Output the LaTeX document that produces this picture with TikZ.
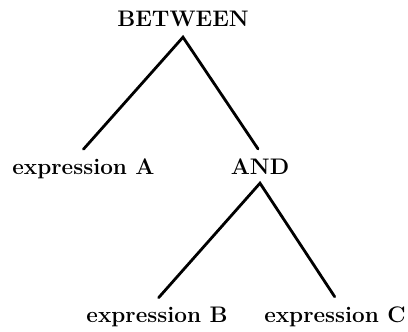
\documentclass[tikz,border=0pt]{standalone}
\usepackage{fontspec}
\begin{document}
\begin{tikzpicture}[x=1pt,y=1pt,
  lbl/.style={anchor=base,inner sep=0pt,text height=15.5pt,text depth=0pt,
    font=\fontsize{22.5}{27}\selectfont\bfseries},
  edge/.style={line width=2.8pt,line cap=round}]
\useasboundingbox (0,0) rectangle (408,-332);
\node[lbl] (between) at (183,-27) {BETWEEN};
\node[lbl] (exprA) at (83.5,-175) {expression A};
\node[lbl] (and) at (260,-175) {AND};
\node[lbl] (exprB) at (157,-322) {expression B};
\node[lbl] (exprC) at (335,-322) {expression C};
\coordinate (betweenApex) at ([yshift=-10pt]between.south);
\coordinate (andApex) at ([yshift=-8pt]and.south);
\draw[edge,shorten <=13.5pt,shorten >=12.5pt] ([xshift=-9pt]exprA.north) -- (betweenApex) -- ([xshift=5pt]and.north);
\draw[edge,shorten >=11.5pt,shorten <=11.5pt] ([xshift=-6pt]exprB.north) -- (andApex) -- ([xshift=6pt]exprC.north);
\end{tikzpicture}
\end{document}
